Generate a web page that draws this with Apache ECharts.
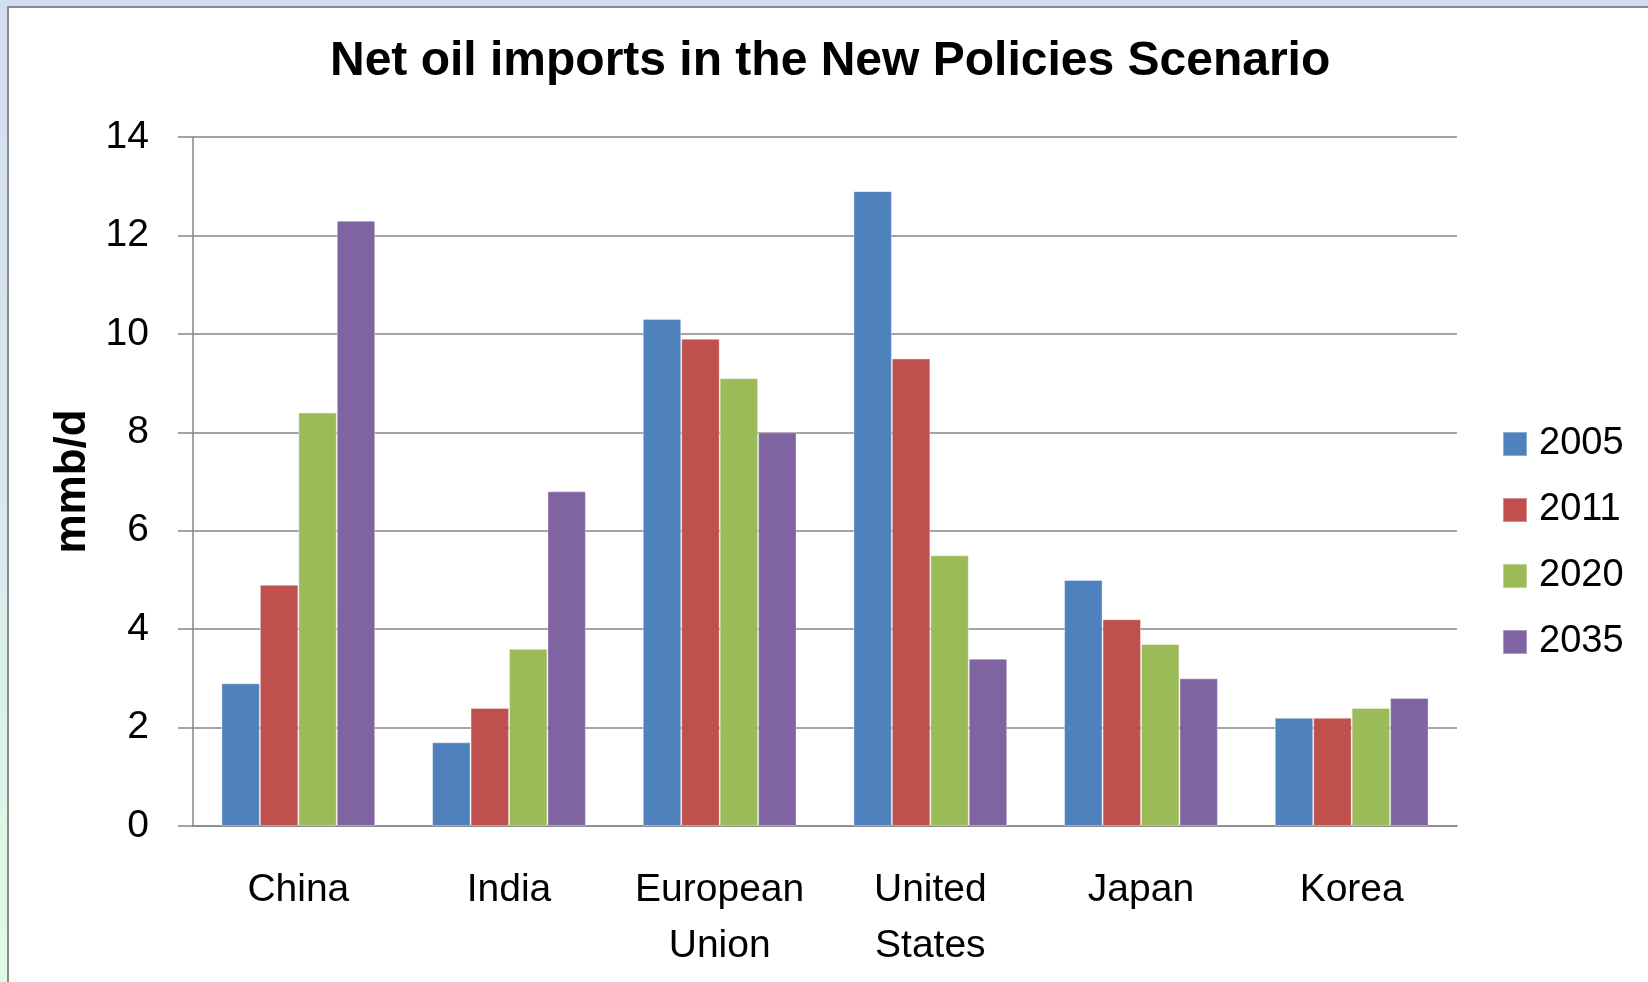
<!DOCTYPE html>
<html>
<head>
<meta charset="utf-8">
<script src="https://cdn.jsdelivr.net/npm/echarts@6/dist/echarts.min.js"></script>
<style>
html, body { margin: 0; padding: 0; width: 1648px; height: 982px; overflow: hidden; }
body { background: linear-gradient(to bottom, #d3def0 0%, #d8e8ee 50%, #e1fbe3 100%); position: relative; }
#box { position: absolute; left: 7px; top: 6px; width: 1660px; height: 1000px; background: #fff; border: 2px solid #8a8a8a; }
#main { position: absolute; left: 0; top: 0; width: 1648px; height: 982px; }
</style>
</head>
<body>
<div id="box"></div>
<div id="main"></div>
<script>
// 数据
var regions = ['China', 'India', 'European\nUnion', 'United\nStates', 'Japan', 'Korea'];
var years = ['2005', '2011', '2020', '2035'];
var v2005 = [2.9, 1.7, 10.3, 12.9, 5.0, 2.2];
var v2011 = [4.9, 2.4, 9.9, 9.5, 4.2, 2.2];
var v2020 = [8.4, 3.6, 9.1, 5.5, 3.7, 2.4];
var v2035 = [12.3, 6.8, 8.0, 3.4, 3.0, 2.6];
var colors = ['#4f81bd', '#c0504d', '#9bbb59', '#8064a2'];

var chart = echarts.init(document.getElementById('main'));
var font = 'Liberation Sans, Arial, sans-serif';

function barSeries(name, data) {
    return {
        name: name,
        type: 'bar',
        data: data,
        barGap: '0%',
        barCategoryGap: '27%',
        itemStyle: { borderColor: 'rgba(255,255,255,0.35)', borderWidth: 1 }
    };
}

var option = {
    animation: false,
    color: colors,
    title: {
        text: 'Net oil imports in the New Policies Scenario',
        left: 325,
        top: 33,
        textStyle: { fontFamily: font, fontWeight: 'bold', fontSize: 48, color: '#000' }
    },
    legend: {
        orient: 'vertical',
        left: 1497,
        top: 420,
        itemWidth: 24,
        itemHeight: 24,
        itemGap: 28,
        icon: 'rect',
        data: years,
        textStyle: { fontFamily: font, fontSize: 38, color: '#000', lineHeight: 24, padding: [0, 0, 0, 7] }
    },
    grid: { left: 193, right: 191, top: 137, bottom: 156 },
    xAxis: {
        type: 'category',
        data: regions,
        axisLine: { lineStyle: { color: '#868686', width: 1.5 } },
        axisTick: { length: 13, lineStyle: { color: '#868686', width: 1.5 } },
        axisLabel: { fontFamily: font, fontSize: 39, color: '#000', lineHeight: 56, margin: 36, interval: 0 }
    },
    yAxis: {
        type: 'value',
        min: 0,
        max: 14,
        interval: 2,
        name: 'mmb/d',
        nameLocation: 'middle',
        nameGap: 92,
        nameTextStyle: { fontFamily: font, fontWeight: 'bold', fontSize: 44, color: '#000' },
        axisLine: { show: true, lineStyle: { color: '#868686', width: 1.5 } },
        axisTick: { show: true, length: 15, lineStyle: { color: '#868686', width: 1.5 } },
        axisLabel: { fontFamily: font, fontSize: 39, color: '#000', margin: 44 },
        splitLine: { lineStyle: { color: '#868686', width: 1.5 } }
    },
    series: [
        barSeries(years[0], v2005),
        barSeries(years[1], v2011),
        barSeries(years[2], v2020),
        barSeries(years[3], v2035)
    ]
};

chart.setOption(option);
</script>
</body>
</html>
